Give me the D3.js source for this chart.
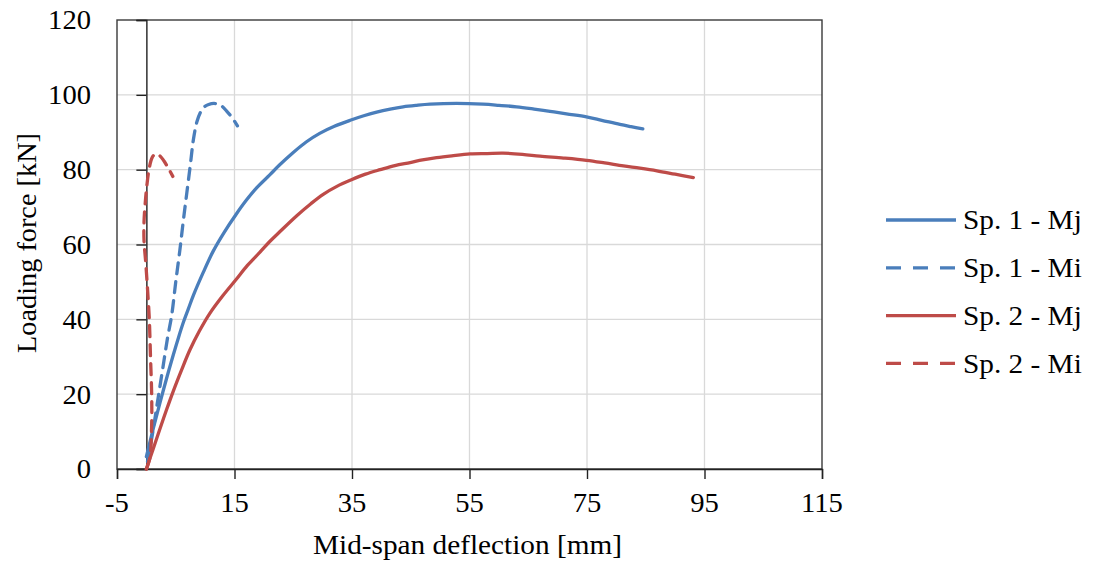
<!DOCTYPE html>
<html>
<head>
<meta charset="utf-8">
<script src="https://cdn.jsdelivr.net/npm/d3@7"></script>
<style>
  html, body { margin: 0; padding: 0; background: #fff; }
  svg { display: block; }
  text { font-family: "Liberation Serif", "Times New Roman", serif; fill: #000; }
</style>
</head>
<body>
<svg id="chart" width="1093" height="567"></svg>
<script>
// Axis ticks
const xTicks = [-5, 15, 35, 55, 75, 95, 115];
const yTicks = [0, 20, 40, 60, 80, 100, 120];

// Series: [deflection mm, force kN]
const sp1Mj = [[0,3.3],[0.5,6.5],[1.2,11],[2.3,17.6],[3.4,24],[4.6,30.6],[5.5,35.3],[6.3,39.2],[7.1,42.6],[8.0,46.4],[9.7,52.6],[11.4,58.3],[13.3,63.4],[15.2,67.9],[17,71.8],[18.8,75.2],[21,78.6],[22.7,81.3],[25,84.6],[27.2,87.4],[29.5,89.7],[32,91.6],[34.7,93.2],[37,94.4],[39.2,95.4],[41.5,96.2],[43.7,96.8],[46,97.2],[48.3,97.5],[52.8,97.7],[57.3,97.5],[60,97.2],[63,96.8],[66,96.2],[68.7,95.6],[71.5,94.9],[74.9,94.1],[77.5,93.2],[80.6,92.1],[82.5,91.5],[84.5,90.9]];
const sp1Mi = [[0.2,2],[1.0,9],[2.0,19],[2.9,28],[3.6,35],[4.3,41],[5.0,50],[5.7,58.5],[6.3,66.5],[6.9,74],[7.5,81.5],[8.0,88],[8.6,92.8],[9.2,95.3],[9.8,96.7],[10.6,97.4],[11.5,97.7],[12.2,97.5],[12.9,96.9],[13.7,95.6],[14.6,93.9],[15.5,91.7]];
const sp2Mj = [[0,0],[1.1,5.1],[2.3,10.7],[3.4,15.7],[4.6,20.9],[6,26.5],[7.4,31.8],[9,36.8],[10.8,41.6],[13,46.3],[15.2,50.5],[17.2,54.4],[19.3,57.9],[21,60.8],[22.7,63.4],[25.6,67.7],[28,70.9],[30.1,73.4],[32.5,75.6],[34.9,77.3],[37.3,78.8],[39.8,80.0],[42.3,81.1],[44.9,81.9],[47,82.6],[49.4,83.2],[52,83.7],[55.1,84.2],[58,84.3],[60.7,84.4],[64,84.1],[67,83.6],[71,83.1],[74.9,82.5],[78,81.8],[81.2,81.0],[84,80.4],[86.9,79.7],[90,78.8],[93.1,77.9]];
const sp2Mi = [[0,0],[0.6,3],[0.9,12],[0.9,20],[0.7,30],[0.5,40],[0.2,48],[-0.1,55],[-0.4,61],[-0.4,66],[-0.2,71],[0.1,76],[0.5,80.5],[1.0,83.3],[1.6,84.2],[2.3,83.7],[3.0,82.3],[3.7,80.5],[4.5,78.2]];

const seriesNames = ["Sp. 1 - Mj", "Sp. 1 - Mi", "Sp. 2 - Mj", "Sp. 2 - Mi"];
const seriesData = [sp1Mj, sp1Mi, sp2Mj, sp2Mi];
const seriesColors = ["#4a7ebb", "#4a7ebb", "#be4b48", "#be4b48"];
const seriesDashed = [false, true, false, true];

const svg = d3.select("#chart");
const plot = { left: 117, top: 20, right: 822, bottom: 469 };

const x = d3.scaleLinear().domain([-5, 115]).range([plot.left, plot.right]);
const y = d3.scaleLinear().domain([0, 120]).range([plot.bottom, plot.top]);

// Gridlines
const grid = svg.append("g");
grid.selectAll(".gx").data(xTicks.slice(1, -1)).join("line")
  .attr("x1", d => x(d)).attr("x2", d => x(d))
  .attr("y1", plot.top).attr("y2", plot.bottom)
  .attr("stroke", "#d9d9d9").attr("stroke-width", 1.3);
grid.selectAll(".gy").data(yTicks.slice(1, -1)).join("line")
  .attr("y1", d => y(d)).attr("y2", d => y(d))
  .attr("x1", plot.left).attr("x2", plot.right)
  .attr("stroke", "#d9d9d9").attr("stroke-width", 1.3);

// Plot frame
svg.append("rect")
  .attr("x", plot.left).attr("y", plot.top)
  .attr("width", plot.right - plot.left).attr("height", plot.bottom - plot.top)
  .attr("fill", "none").attr("stroke", "#3a3a3a").attr("stroke-width", 1.4);

// Y axis crosses at deflection = 0
const yAxis = d3.axisLeft(y).tickValues(yTicks).tickSize(10).tickFormat("");
const gy = svg.append("g").attr("transform", `translate(${x(0)},0)`).call(yAxis);
gy.selectAll("path, line").attr("stroke", "#222").attr("stroke-width", 1.4);

// X axis at force = 0
const xAxis = d3.axisBottom(x).tickValues(xTicks).tickSize(10).tickFormat("");
const gx = svg.append("g").attr("transform", `translate(0,${y(0)})`).call(xAxis);
gx.selectAll("path, line").attr("stroke", "#222").attr("stroke-width", 1.4);

// Tick labels (slightly wide serif)
svg.append("g").selectAll("text").data(yTicks).join("text")
  .attr("transform", d => `translate(91,${y(d)}) scale(1.06,1)`)
  .attr("dy", "0.35em")
  .attr("text-anchor", "end").attr("font-size", 27)
  .text(d => d);
svg.append("g").selectAll("text").data(xTicks).join("text")
  .attr("transform", d => `translate(${x(d)},512) scale(1.06,1)`)
  .attr("text-anchor", "middle").attr("font-size", 27)
  .text(d => d);

// Axis titles
svg.append("text")
  .attr("x", 313).attr("y", 554)
  .attr("font-size", 27)
  .attr("textLength", 309).attr("lengthAdjust", "spacingAndGlyphs")
  .text("Mid-span deflection [mm]");
svg.append("text")
  .attr("transform", "translate(36,353) rotate(-90)")
  .attr("font-size", 27.5)
  .attr("textLength", 220).attr("lengthAdjust", "spacingAndGlyphs")
  .text("Loading force [kN]");

// Curves
const line = d3.line()
  .x(d => x(d[0])).y(d => y(d[1]))
  .curve(d3.curveCatmullRom.alpha(0.5));

svg.append("g").selectAll("path").data(seriesData).join("path")
  .attr("d", d => line(d))
  .attr("fill", "none")
  .attr("stroke", (d, i) => seriesColors[i])
  .attr("stroke-width", 3.3)
  .attr("stroke-linecap", "round")
  .attr("stroke-linejoin", "round")
  .attr("stroke-dasharray", (d, i) => seriesDashed[i] ? "11,8" : null);

// Legend
const legend = svg.append("g");
const rowY = i => 220 + i * 47.8;
legend.selectAll("line").data(seriesNames).join("line")
  .attr("x1", 886).attr("x2", 956)
  .attr("y1", (d, i) => rowY(i)).attr("y2", (d, i) => rowY(i))
  .attr("stroke", (d, i) => seriesColors[i])
  .attr("stroke-width", 3.3)
  .attr("stroke-dasharray", (d, i) => seriesDashed[i] ? "15,12" : null);
legend.selectAll("text").data(seriesNames).join("text")
  .attr("transform", (d, i) => `translate(963,${rowY(i)}) scale(1.085,1)`)
  .attr("dy", "0.35em")
  .attr("font-size", 27)
  .text(d => d);
</script>
</body>
</html>
